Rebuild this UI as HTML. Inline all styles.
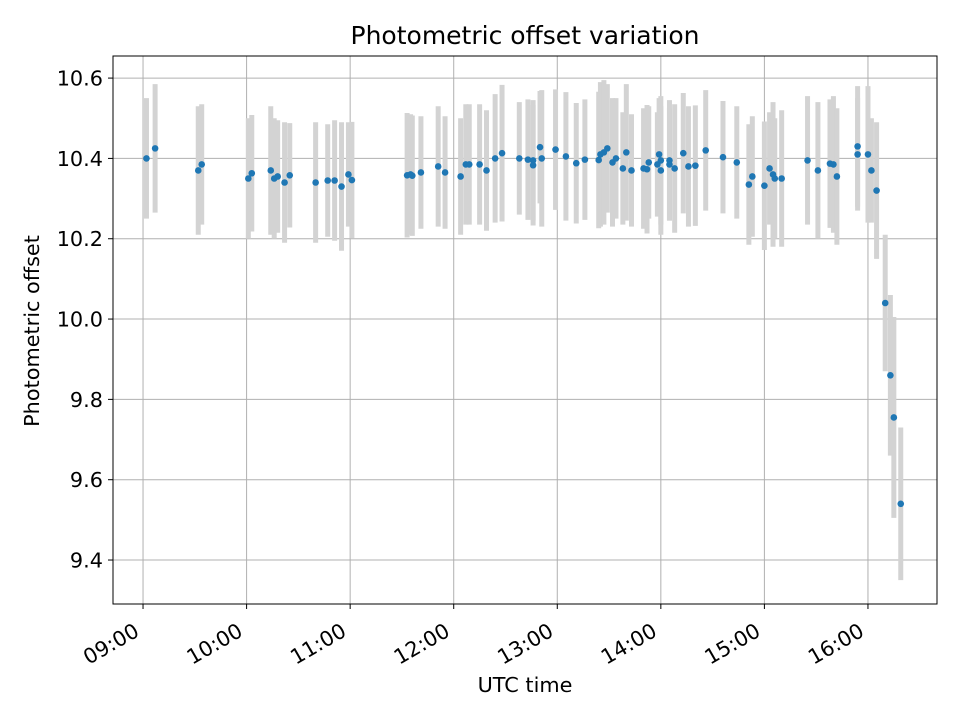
<!DOCTYPE html>
<html><head><meta charset="utf-8"><style>
body{margin:0;background:#fff;}
svg text{font-family:"DejaVu Sans","Liberation Sans",sans-serif;fill:#000;}
</style></head><body>
<svg id="chart" width="960" height="720" xmlns="http://www.w3.org/2000/svg">
<g id="grid"></g><g id="bars"></g><g id="pts"></g><g id="axes"></g>
</svg>
<script>
const minutes=[2,7,32,34,61,63,74,76,78,82,85,100,107,111,115,119,121,153,155,156,161,171,175,184,187,189,195,199,204,208,218,223,226,226,230,231,239,245,251,256,264,265,267,269,272,274,278,280,283,290,292,293,298,299,300,300,305,305,308,313,316,320,326,336,344,351,353,360,363,365,366,370,385,391,398,400,402,414,414,420,422,425,430,433,435,439];
const values=[10.40,10.425,10.37,10.385,10.35,10.363,10.37,10.35,10.355,10.34,10.358,10.34,10.345,10.345,10.33,10.36,10.346,10.358,10.36,10.357,10.365,10.38,10.365,10.355,10.385,10.385,10.385,10.37,10.40,10.413,10.40,10.397,10.395,10.383,10.428,10.40,10.422,10.405,10.388,10.397,10.396,10.41,10.415,10.425,10.39,10.40,10.375,10.415,10.37,10.375,10.373,10.39,10.385,10.41,10.395,10.37,10.395,10.385,10.375,10.413,10.38,10.382,10.42,10.403,10.39,10.335,10.355,10.332,10.375,10.36,10.35,10.35,10.395,10.37,10.387,10.385,10.355,10.41,10.43,10.41,10.37,10.32,10.04,9.86,9.755,9.54];
const errors=[0.15,0.16,0.16,0.15,0.15,0.145,0.16,0.15,0.14,0.15,0.13,0.15,0.14,0.15,0.16,0.13,0.145,0.155,0.15,0.15,0.14,0.15,0.14,0.145,0.15,0.15,0.15,0.15,0.16,0.17,0.14,0.15,0.15,0.15,0.14,0.17,0.15,0.16,0.15,0.15,0.17,0.18,0.18,0.16,0.16,0.15,0.14,0.17,0.14,0.15,0.16,0.14,0.13,0.14,0.16,0.16,0.15,0.14,0.16,0.15,0.15,0.15,0.15,0.14,0.14,0.15,0.15,0.16,0.14,0.18,0.15,0.17,0.16,0.17,0.16,0.17,0.17,0.14,0.15,0.17,0.13,0.17,0.17,0.20,0.25,0.19];
const yTicks=[9.4,9.6,9.8,10.0,10.2,10.4,10.6];
const xTickLabels=["09:00","10:00","11:00","12:00","13:00","14:00","15:00","16:00"];
const L=113,R=937,T=56,B=604,xmin=-17.4,xmax=460,ymin=9.2905,ymax=10.655;
const X=m=>L+(m-xmin)/(xmax-xmin)*(R-L);
const Y=v=>B-(v-ymin)/(ymax-ymin)*(B-T);
const NS="http://www.w3.org/2000/svg";
function mk(p,tag,a){const e=document.createElementNS(NS,tag);for(const k in a)e.setAttribute(k,a[k]);p.appendChild(e);return e;}
const grid=document.getElementById('grid'),bars=document.getElementById('bars'),pts=document.getElementById('pts'),axes=document.getElementById('axes');
yTicks.forEach(v=>{const y=Y(v);
const g=mk(grid,'line',{x1:L,x2:R,y1:y,y2:y,stroke:'#b0b0b0','stroke-width':1});


mk(axes,'line',{x1:L-5,x2:L,y1:y,y2:y,stroke:'#000'});
const t=mk(axes,'text',{x:L-10,y:y+7.5,'text-anchor':'end','font-size':20.8});
t.textContent=v.toFixed(1);

});
xTickLabels.forEach((s,i)=>{const x=X(i*60);
const g=mk(grid,'line',{x1:x,x2:x,y1:T,y2:B,stroke:'#b0b0b0','stroke-width':1});


mk(axes,'line',{x1:x,x2:x,y1:B,y2:B+5,stroke:'#000'});
const t=mk(axes,'text',{x:0,y:15,'text-anchor':'end','font-size':20.8,transform:`translate(${x-10} ${B+18}) rotate(-30)`});
t.textContent=s;

});
minutes.forEach((m,i)=>{const x=X(m);
const b=mk(bars,'line',{x1:x,x2:x,y1:Y(values[i]+errors[i]),y2:Y(values[i]-errors[i]),stroke:'#d3d3d3','stroke-width':5});


const c=mk(pts,'circle',{cx:x,cy:Y(values[i]),r:3.3,fill:'#1f77b4'});

});
const fr=mk(axes,'rect',{x:L,y:T,width:R-L,height:B-T,fill:'none',stroke:'#000','stroke-width':1});


const ti=mk(axes,'text',{x:(L+R)/2,y:44,'text-anchor':'middle','font-size':25});ti.textContent='Photometric offset variation';


const xl=mk(axes,'text',{x:(L+R)/2,y:692,'text-anchor':'middle','font-size':20.8});xl.textContent='UTC time';


const yl=mk(axes,'text',{x:39,y:331,'text-anchor':'middle','font-size':20.8,transform:`rotate(-90 39 331)`});yl.textContent='Photometric offset';


</script>
</body></html>
